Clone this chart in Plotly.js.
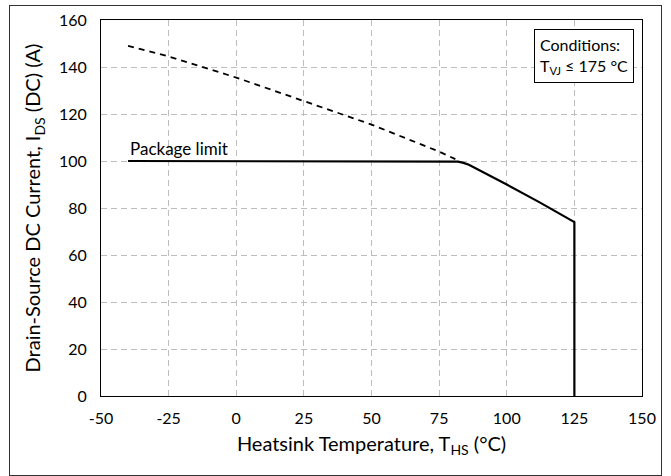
<!DOCTYPE html>
<html>
<head>
<meta charset="utf-8">
<script src="https://cdn.plot.ly/plotly-3.0.1.min.js"></script>
<style>
html,body{margin:0;padding:0;background:#fff;}
#wrap{position:relative;width:671px;height:476px;}
#chart{width:671px;height:476px;}
#frame{position:absolute;left:9px;top:5px;width:651px;height:469px;border:1px solid #333;pointer-events:none;}
</style>
</head>
<body>
<div id="wrap"><div id="chart"></div><div id="frame"></div></div>
<script>
// Thermal (junction-limited) derating, dashed part above package limit
const dashedT = [-40, -25, 0, 25, 50, 75, 81];
const dashedI = [149, 144.5, 135.5, 125.5, 115.5, 104, 100.8];
// Effective limit curve (package limit then thermal derating)
const solidT = [-40, 78, 80, 82, 84, 86, 100, 112, 125, 125];
const solidI = [100, 100, 99.95, 99.7, 99.2, 98.4, 90, 82.5, 74, 0];

const tickVals = [-50, -25, 0, 25, 50, 75, 100, 125, 150];
const yTickVals = [0, 20, 40, 60, 80, 100, 120, 140, 160];

const FONT = 'Lato, "Open Sans", sans-serif';

const traces = [
  {x: dashedT, y: dashedI, mode: 'lines', line: {color: '#000', width: 1.8, dash: '6px,5px'}, hoverinfo: 'skip'},
  {x: solidT, y: solidI, mode: 'lines', line: {color: '#000', width: 2.2}, hoverinfo: 'skip'}
];

const layout = {
  width: 671, height: 476,
  margin: {l: 101, r: 29, t: 20, b: 80},
  paper_bgcolor: '#fff', plot_bgcolor: '#fff',
  showlegend: false,
  font: {family: FONT, color: '#000', size: 14},
  xaxis: {
    range: [-50, 150], tickvals: tickVals, ticktext: tickVals.map(String),
    showgrid: true, gridcolor: '#bdbdbd', griddash: '6px,4px', gridwidth: 1,
    zeroline: false, showline: true, linecolor: '#000', linewidth: 1, mirror: true,
    ticks: '', tickfont: {size: 16, family: FONT}, ticklabelstandoff: 8,
    title: {text: 'Heatsink Temperature, T<sub>HS</sub> (°C)', font: {size: 20, family: FONT}, standoff: 10}
  },
  yaxis: {
    range: [0, 160], tickvals: yTickVals, ticktext: yTickVals.map(String),
    showgrid: true, gridcolor: '#bdbdbd', griddash: '6px,4px', gridwidth: 1,
    zeroline: false, showline: true, linecolor: '#000', linewidth: 1, mirror: true,
    ticks: '', tickfont: {size: 16, family: FONT}, ticklabelstandoff: 10,
    title: {text: 'Drain-Source DC Current, I<sub>DS</sub> (DC) (A)', font: {size: 20, family: FONT}, standoff: 12}
  },
  annotations: [
    {x: -40, y: 100, xref: 'x', yref: 'y', text: 'Package limit', showarrow: false,
     xanchor: 'left', yanchor: 'bottom', yshift: 0, font: {size: 17, family: FONT}},
    {x: 0.985, y: 0.975, xref: 'paper', yref: 'paper', xanchor: 'right', yanchor: 'top',
     text: 'Conditions:<br>T<sub>VJ</sub> ≤ 175 °C', showarrow: false, align: 'left',
     bordercolor: '#000', borderwidth: 1, borderpad: 5, bgcolor: '#fff',
     font: {size: 16, family: FONT}}
  ]
};

Plotly.newPlot('chart', traces, layout, {staticPlot: true, displayModeBar: false});
</script>
</body>
</html>
